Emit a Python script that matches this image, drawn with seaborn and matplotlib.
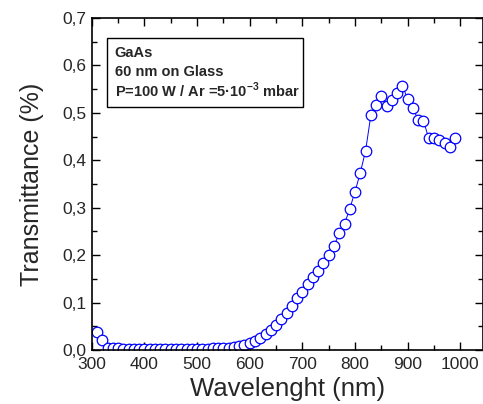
import numpy as np
import pandas as pd
import matplotlib
matplotlib.use("Agg")
import matplotlib.pyplot as plt
from matplotlib.ticker import MultipleLocator, FuncFormatter
from matplotlib.patches import Rectangle
import seaborn as sns

# wavelength (nm) and transmittance
wavelength = list(range(310, 1000, 10))
transmittance = [
    0.038, 0.021,
    0.005, 0.004, 0.004, 0.003, 0.003, 0.003, 0.003, 0.003, 0.003, 0.003,
    0.003, 0.003, 0.003, 0.003, 0.003, 0.003, 0.003, 0.003, 0.003, 0.003,
    0.004, 0.004, 0.005, 0.005,
    0.006, 0.008, 0.010, 0.014, 0.019, 0.025, 0.033, 0.042, 0.053, 0.065,
    0.077, 0.092, 0.109, 0.123, 0.139, 0.153, 0.167, 0.183, 0.200, 0.219,
    0.246, 0.266, 0.298, 0.334, 0.374, 0.420, 0.495, 0.517, 0.536, 0.515,
    0.527, 0.541, 0.557, 0.529, 0.510, 0.485, 0.483, 0.446, 0.448, 0.443,
    0.437, 0.429, 0.448,
]
info_lines = ["GaAs", "60 nm on Glass", r"P=100 W / Ar =5·10$^{\mathbf{-3}}$ mbar"]

df = pd.DataFrame({"wl": wavelength, "T": transmittance})

sns.set_style("ticks")
plt.rcParams['font.family'] = ['Liberation Sans', 'DejaVu Sans']
plt.rcParams['mathtext.fontset'] = 'custom'
plt.rcParams['mathtext.rm'] = 'Liberation Sans'
plt.rcParams['mathtext.bf'] = 'Liberation Sans:bold'

fig = plt.figure(figsize=(4.83, 4.04), dpi=100)
ax = fig.add_axes([0.190, 0.1337, 0.810, 0.8217])

sns.lineplot(
    data=df, x="wl", y="T", ax=ax,
    color="blue", linewidth=0.7,
    marker="o", markersize=7.6, markerfacecolor="white",
    markeredgecolor="blue", markeredgewidth=0.9,
)

ax.set_xlim(300, 1043)
ax.set_ylim(0, 0.7)
ax.xaxis.set_major_locator(MultipleLocator(100))
ax.xaxis.set_minor_locator(MultipleLocator(50))
ax.yaxis.set_major_locator(MultipleLocator(0.1))
ax.yaxis.set_minor_locator(MultipleLocator(0.05))
ax.yaxis.set_major_formatter(FuncFormatter(lambda v, p: f"{v:.1f}".replace(".", ",")))
ax.tick_params(which="both", direction="in", top=True, right=True,
               labelsize=12.5, width=1.0, color="black")
ax.tick_params(axis="x", pad=5)
ax.tick_params(axis="y", pad=4)
ax.tick_params(which="major", length=6)
ax.tick_params(which="minor", length=3.5)
for s in ax.spines.values():
    s.set_linewidth(1.2)
    s.set_color("black")

ax.set_xlabel("Wavelenght (nm)", fontsize=18.5, labelpad=4)
ax.set_ylabel("Transmittance (%)", fontsize=18, labelpad=13)

# info box
ax.add_patch(Rectangle((0.038, 0.732), 0.502, 0.208, transform=ax.transAxes,
                       facecolor="white", edgecolor="black", linewidth=1.0, zorder=5))
for txt, yb in zip(info_lines, [0.882, 0.825, 0.763]):
    ax.text(0.059, yb, txt, transform=ax.transAxes, fontsize=10.5,
            fontweight="bold", va="baseline", ha="left", zorder=6)

plt.savefig("out.png", dpi=100)
